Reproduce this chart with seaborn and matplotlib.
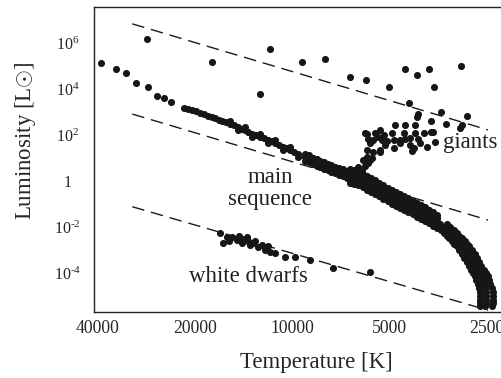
import numpy as np
import pandas as pd
import matplotlib
matplotlib.use('Agg')
import matplotlib.pyplot as plt
import seaborn as sns

# values, stored as log10(T [K]) and log10(L [L_sun])
supergiant_logT = [4.451, 4.248, 4.101, 4.068, 3.970, 3.899, 3.822, 3.772, 3.701,
                   3.652, 3.614, 3.576, 3.561, 3.479, 3.638, 3.541, 3.460]
supergiant_logL = [6.16, 5.17, 3.80, 5.74, 5.19, 5.29, 4.54, 4.39, 4.07,
                   4.88, 4.62, 4.88, 4.09, 5.01, 3.40, 3.00, 2.83]

# upper main sequence (hot end)
ms_top_logT = [4.592, 4.546, 4.515, 4.484, 4.447, 4.419, 4.397, 4.376,
               4.335, 4.323, 4.311, 4.298, 4.286, 4.273, 4.261, 4.250, 4.239, 4.228,
               4.218, 4.205, 4.193, 4.180, 4.168, 4.157, 4.147, 4.136, 4.125, 4.112,
               4.100, 4.088, 4.075, 4.064, 4.054, 4.041, 4.029, 4.018, 4.007, 3.994, 3.982,
               4.193, 4.168, 4.147, 4.125, 4.100, 4.075, 4.054, 4.029, 4.007, 3.982]
ms_top_logL = [5.13, 4.87, 4.70, 4.26, 4.09, 3.70, 3.61, 3.43,
               3.17, 3.13, 3.09, 3.03, 2.96, 2.90, 2.83, 2.78, 2.74, 2.67,
               2.61, 2.55, 2.48, 2.42, 2.35, 2.28, 2.22, 2.13, 2.04, 1.98,
               1.91, 1.85, 1.78, 1.72, 1.65, 1.57, 1.48, 1.42, 1.35, 1.26, 1.17,
               2.62, 2.22, 2.35, 1.92, 2.03, 1.66, 1.78, 1.36, 1.48, 1.05]

# middle of the main sequence
ms_mid_logT = [3.961, 3.936, 3.914, 3.890, 3.868, 3.843, 3.821, 3.797, 3.769, 3.744,
               3.719, 3.691, 3.667, 3.642, 3.614, 3.589, 3.564,
               3.961, 3.936, 3.914, 3.890, 3.868, 3.843, 3.821, 3.797, 3.769, 3.744,
               3.719, 3.691, 3.667, 3.642, 3.614, 3.589, 3.564,
               3.961, 3.936, 3.914, 3.890, 3.868, 3.843, 3.821, 3.797, 3.769, 3.744,
               3.719, 3.691, 3.667, 3.642, 3.614, 3.589, 3.564,
               3.821, 3.797, 3.769, 3.744, 3.719, 3.691, 3.667, 3.642, 3.614, 3.589, 3.564,
               3.821, 3.797, 3.769, 3.744, 3.719, 3.691, 3.667, 3.642, 3.614, 3.589, 3.564,
               3.949, 3.925, 3.902, 3.879, 3.856, 3.832, 3.809, 3.783, 3.757, 3.732,
               3.705, 3.679, 3.655, 3.628, 3.602, 3.577, 3.553,
               3.949, 3.925, 3.902, 3.879, 3.856, 3.832, 3.809, 3.783, 3.757, 3.732,
               3.705, 3.679, 3.655, 3.628, 3.602, 3.577, 3.553,
               3.949, 3.925, 3.902, 3.879, 3.856, 3.832, 3.809, 3.783, 3.757, 3.732,
               3.705, 3.679, 3.655, 3.628, 3.602, 3.577, 3.553,
               3.809, 3.783, 3.757, 3.732, 3.705, 3.679, 3.655, 3.628, 3.602, 3.577, 3.553,
               3.809, 3.783, 3.757, 3.732, 3.705, 3.679, 3.655, 3.628, 3.602, 3.577, 3.553]
ms_mid_logL = [1.04, 0.87, 0.74, 0.61, 0.48, 0.35, 0.22, 0.13, -0.09, -0.26,
               -0.48, -0.70, -0.87, -1.04, -1.26, -1.43, -1.65,
               1.19, 1.02, 0.89, 0.76, 0.63, 0.50, 0.37, 0.28, 0.06, -0.11,
               -0.33, -0.55, -0.72, -0.89, -1.11, -1.28, -1.50,
               0.89, 0.72, 0.59, 0.46, 0.33, 0.20, 0.07, -0.02, -0.24, -0.41,
               -0.63, -0.85, -1.02, -1.19, -1.41, -1.58, -1.80,
               0.52, 0.43, 0.21, 0.04, -0.18, -0.40, -0.57, -0.74, -0.96, -1.13, -1.35,
               -0.08, -0.17, -0.39, -0.56, -0.78, -1.00, -1.17, -1.34, -1.56, -1.73, -1.95,
               0.96, 0.81, 0.68, 0.55, 0.42, 0.29, 0.18, 0.02, -0.18, -0.37,
               -0.59, -0.79, -0.96, -1.15, -1.35, -1.54, -1.76,
               1.11, 0.96, 0.83, 0.70, 0.57, 0.44, 0.33, 0.17, -0.03, -0.22,
               -0.44, -0.64, -0.81, -1.00, -1.20, -1.39, -1.61,
               0.81, 0.66, 0.53, 0.40, 0.27, 0.14, 0.03, -0.13, -0.33, -0.52,
               -0.74, -0.94, -1.11, -1.30, -1.50, -1.69, -1.91,
               0.48, 0.32, 0.12, -0.07, -0.29, -0.49, -0.66, -0.85, -1.05, -1.24, -1.46,
               -0.12, -0.28, -0.48, -0.67, -0.89, -1.09, -1.26, -1.45, -1.65, -1.84, -2.06]

# cool, steep end of the main sequence
ms_low_logT = [3.543, 3.521, 3.503, 3.487, 3.472, 3.456, 3.441, 3.428, 3.416, 3.406,
               3.400, 3.400, 3.403,
               3.563, 3.541, 3.523, 3.507, 3.492, 3.476, 3.461, 3.448, 3.436, 3.427,
               3.420, 3.420, 3.420,
               3.523, 3.501, 3.483, 3.467, 3.452, 3.436, 3.421, 3.408, 3.396, 3.387,
               3.380, 3.380, 3.383,
               3.532, 3.512, 3.495, 3.480, 3.464, 3.449, 3.435, 3.422, 3.411, 3.403,
               3.400, 3.400,
               3.552, 3.532, 3.515, 3.500, 3.484, 3.469, 3.455, 3.442, 3.431, 3.423,
               3.420, 3.420,
               3.512, 3.492, 3.475, 3.460, 3.444, 3.429, 3.415, 3.402, 3.391, 3.383,
               3.380, 3.380]
ms_low_logL = [-1.87, -2.13, -2.39, -2.61, -2.83, -3.17, -3.52, -3.87, -4.13, -4.48,
               -4.83, -5.17, -5.43,
               -1.87, -2.13, -2.39, -2.61, -2.83, -3.17, -3.52, -3.87, -4.13, -4.48,
               -4.83, -5.17, -5.43,
               -1.87, -2.13, -2.39, -2.61, -2.83, -3.17, -3.52, -3.87, -4.13, -4.48,
               -4.83, -5.17, -5.43,
               -2.00, -2.26, -2.50, -2.72, -3.00, -3.35, -3.70, -4.00, -4.30, -4.65,
               -5.00, -5.30,
               -2.00, -2.26, -2.50, -2.72, -3.00, -3.35, -3.70, -4.00, -4.30, -4.65,
               -5.00, -5.30,
               -2.00, -2.26, -2.50, -2.72, -3.00, -3.35, -3.70, -4.00, -4.30, -4.65,
               -5.00, -5.30]

giant_logT = [3.610, 3.613, 3.572, 3.524, 3.476, 3.682, 3.653, 3.620, 3.572, 3.594,
              3.620, 3.656, 3.692, 3.770, 3.744, 3.734, 3.749, 3.765, 3.723, 3.708,
              3.687, 3.667, 3.651, 3.636, 3.610, 3.605, 3.636, 3.667, 3.687, 3.713,
              3.729, 3.749, 3.770, 3.760, 3.718, 3.625, 3.630, 3.584, 3.558, 3.780,
              3.760, 3.775, 3.785, 3.806, 3.797, 3.729, 3.729, 3.775, 3.481, 3.564,
              3.769, 3.753, 3.766]
giant_logL = [2.91, 2.77, 2.61, 2.48, 2.45, 2.45, 2.45, 2.45, 2.14, 2.10,
              2.10, 2.10, 2.10, 2.04, 2.10, 1.93, 1.78, 1.81, 1.78, 1.75,
              1.78, 1.78, 1.81, 1.86, 1.81, 1.64, 1.57, 1.64, 1.42, 1.57,
              1.35, 1.27, 1.35, 1.64, 2.00, 1.42, 1.32, 1.49, 1.71, 0.91,
              0.91, 0.65, 0.48, 0.39, 0.61, 1.26, 2.22, 2.07, 2.30, 2.14,
              1.04, 1.00, 0.78]

wd_logT = [4.224, 4.214, 4.201, 4.188, 4.172, 4.164, 4.157, 4.141, 4.136, 4.131,
           4.121, 4.116, 4.105, 4.095, 4.085, 4.074, 4.069, 4.054, 4.023, 3.992,
           3.945, 3.873, 3.760, 4.150, 4.196]
wd_logL = [-2.27, -2.68, -2.45, -2.42, -2.57, -2.39, -2.71, -2.42, -2.60, -2.78,
           -2.71, -2.60, -2.86, -2.78, -3.00, -2.83, -3.07, -3.14, -3.29, -3.32,
           -3.43, -3.80, -3.94, -2.52, -2.59]

# dashed guide lines (end points: T in K, L in L_sun)
guide_T = [31300, 2480]
guide_L_top = [6.8e6, 166]
guide_L_mid = [813, 0.020]
guide_L_low = [0.076, 2.4e-6]

x_ticks = [40000, 20000, 10000, 5000, 2500]
x_tick_labels = ['40000', '20000', '10000', '5000', '2500']
y_ticks = [1e6, 1e4, 1e2, 1, 1e-2, 1e-4]
y_tick_labels = [r'$\mathrm{10^{6}}$', r'$\mathrm{10^{4}}$', r'$\mathrm{10^{2}}$', '1',
                 r'$\mathrm{10^{\text{-}2}}$', r'$\mathrm{10^{\text{-}4}}$']

region_labels = ['giants', 'main', 'sequence', 'white dwarfs']
region_T = [3420, 11720, 11720, 13710]
region_L = [27, 0.82, 0.091, 4.07e-5]
region_ha = ['left', 'center', 'center', 'center']

sns.set_style('white')
plt.rcParams['font.family'] = ['Liberation Serif', 'DejaVu Sans']
plt.rcParams['mathtext.fontset'] = 'custom'
plt.rcParams['mathtext.rm'] = 'Liberation Serif'
plt.rcParams['mathtext.it'] = 'Liberation Serif:italic'

frames = []
for name, lt, ll in [('supergiants', supergiant_logT, supergiant_logL),
                     ('ms', ms_top_logT + ms_mid_logT + ms_low_logT,
                      ms_top_logL + ms_mid_logL + ms_low_logL),
                     ('giants', giant_logT, giant_logL),
                     ('white dwarfs', wd_logT, wd_logL)]:
    frames.append(pd.DataFrame({'group': name,
                                'T': 10 ** np.array(lt),
                                'L': 10 ** np.array(ll)}))
df = pd.concat(frames, ignore_index=True)

fig = plt.figure(figsize=(5.02, 3.78), dpi=100)
ax = fig.add_axes([0.1873, 0.1746, 0.8187, 0.8069])
ax.set_xscale('log')
ax.set_yscale('log')

for gl in [guide_L_top, guide_L_mid, guide_L_low]:
    ax.plot(guide_T, gl, color='#1a1a1a', lw=1.0, linestyle=(0, (9, 5)))

sns.scatterplot(data=df, x='T', y='L', ax=ax, color='#161616', s=26,
                linewidth=0, legend=False, zorder=3)

ax.set_xlim(41100, 2198)
ax.set_ylim(10 ** -5.696, 10 ** 7.565)
ax.minorticks_off()
ax.set_xticks(x_ticks)
ax.set_xticklabels(x_tick_labels, fontsize=12.7)
ax.set_yticks(y_ticks)
ax.set_yticklabels(y_tick_labels, fontsize=11.5, ha='center')
ax.tick_params(axis='x', direction='in', length=7, width=0.8, pad=6, color='#222222')
ax.tick_params(axis='y', direction='in', length=5, width=0.8, pad=19, color='#222222')

for side in ['left', 'bottom', 'top', 'right']:
    ax.spines[side].set_color('#222222')
    ax.spines[side].set_linewidth(1.0)

ax.set_xlabel('Temperature [K]', fontsize=16.5)
ax.set_ylabel(r'Luminosity [L$\odot$]', fontsize=16.5)
ax.xaxis.set_label_coords(0.54, -0.131)
ax.yaxis.set_label_coords(-0.136, 0.561)

for lab, t, l, ha in zip(region_labels, region_T, region_L, region_ha):
    ax.text(t, l, lab, fontsize=16.5, ha=ha, va='baseline', color='#222222')

fig.savefig('out.png', dpi=100)
